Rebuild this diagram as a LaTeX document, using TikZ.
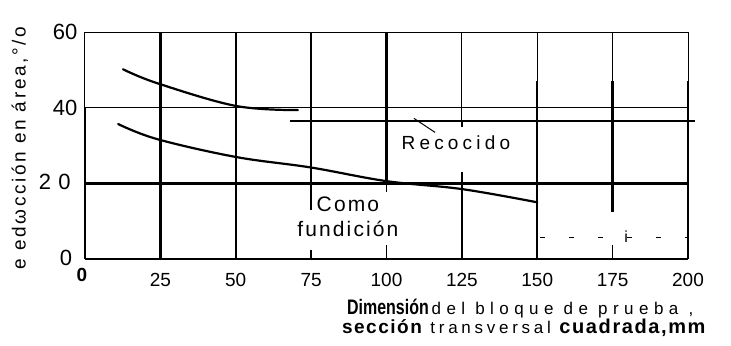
\documentclass[tikz,border=0pt]{standalone}
\usepackage{fontspec}
\setmainfont{Liberation Sans}
\newfontfamily\spacedfont[LetterSpace=22]{Liberation Sans}
\newfontfamily\widefont[LetterSpace=32]{Liberation Sans}
\newfontfamily\boldlab[LetterSpace=8]{Liberation Sans}
\newfontfamily\handfont[LetterSpace=10]{Liberation Sans}
\newfontfamily\axisfont[LetterSpace=14]{Liberation Sans}
\usetikzlibrary{positioning}

\begin{document}
\begin{tikzpicture}[x=3.015pt, y=3.78pt,
    thickline/.style={line width=2.4pt},
    thinline/.style={line width=1pt},
    curve/.style={line width=2.2pt, line cap=round, line join=round},
    ticklabel/.style={font=\fontsize{19}{22}\selectfont, inner sep=0pt},
    ylabel/.style={font=\fontsize{22}{24}\selectfont, inner sep=0pt},
    xtitle/.style={font=\spacedfont\fontsize{17}{20}\selectfont, inner sep=0pt, anchor=west}]
    \useasboundingbox (-28.19,-22.75) rectangle (214.26,68.52);

    % frame and grid
    \draw[thinline] (0,60) -- (200,60);
    \draw[thinline] (0,40) -- (200,40);
    \draw[thickline] (0,20) -- (200,20);
    \draw[thickline] (0,0) -- (200,0);
    \draw[thinline] (0,60) -- (0,40);
    \draw[thickline] (0,40) -- (0,0);
    \draw[thickline] (25,60) -- (25,0);
    \draw[thickline] (50,60) -- (50,0);
    \draw[thickline] (75,60) -- (75,13);
    \draw[thickline] (75,2.4) -- (75,0);
    \draw[thickline] (100,60) -- (100,20);
    \draw[thinline] (100,20) -- (100,17.8);
    \draw[thinline] (100,3.7) -- (100,0);
    \draw[thinline] (125,60) -- (125,36.5);
    \draw[thickline] (125,36.5) -- (125,34.9);
    \draw[thickline] (125,23) -- (125,0);
    \foreach \xg in {150,200} {
        \draw[thinline] (\xg,60) -- (\xg,47);
        \draw[thickline] (\xg,47) -- (\xg,0);
    }
    \draw[thinline] (175,60) -- (175,47);
    \draw[thickline] (175,47) -- (175,12.4);
    \draw[thinline] (175,3.7) -- (175,0);

    % annealed level
    \draw[thickline] (68,36.5) -- (202.3,36.5);

    % curves
    \draw[curve] plot[smooth, tension=0.6] coordinates {(12.6,50.2) (24,46.5) (50,40.5) (70.6,39.4)};
    \draw[curve] plot[smooth, tension=0.6] coordinates {(11,35.7) (24,31.7) (50,27) (75,24.2) (100,20.6) (125,18.5) (150,15)};

    % labels of the curves
    \node[font=\spacedfont\fontsize{19}{22}\selectfont, inner sep=0pt] (recocido) at (123,30.7) {Recocido};
    \coordinate (rcline) at (109.1,37.2);
    \draw[thinline] (rcline) -- (116.1,33.5);
    \node[font=\handfont\fontsize{21}{25}\selectfont, align=center, inner sep=0pt] (fundicion) at (87.2,11.1) {Como\\fundición};

    % dashes lower right
    \draw[thinline, dash pattern=on 5pt off 24pt] (151,5.6) -- (200,5.6);
    \node[font=\fontsize{16}{18}\selectfont, inner sep=0pt] (imark) at (179.5,5.9) {i};

    % ticks
    \node[font=\bfseries\fontsize{19}{22}\selectfont, inner sep=0pt] (x0) at (-1,-4.3) {0};
    \foreach \xv in {25,50,75,100,125,150,175,200}
        \node[ticklabel] (x\xv) at (\xv,-5.6) {\xv};
    \node[ylabel] (y60) at (-6.6,60) {60};
    \node[ylabel] (y40) at (-6.6,40) {40};
    \node[ylabel] (y20) at (-10,20.4) {2\,\,0};
    \node[ylabel] (y0) at (-6.3,0.2) {0};

    % axis titles
    \node[font=\axisfont\fontsize{19}{22}\selectfont, rotate=90, inner sep=0pt] (ytitle) at (-21.6,29.4) {e edωcción en área,°/o};
    \node[xtitle] (xtitlea) at (86.9,-13) {\scalebox{0.76}[1]{\normalfont\bfseries\fontsize{21}{20}\selectfont Dimensión}\,{\widefont del bloque de prueba ,}};
    \node[xtitle] (xtitleb) at (85.2,-18.3) {{\boldlab\bfseries\fontsize{19}{20}\selectfont sección} transversal {\boldlab\bfseries\fontsize{20}{20}\selectfont cuadrada,mm}};
\end{tikzpicture}
\end{document}
